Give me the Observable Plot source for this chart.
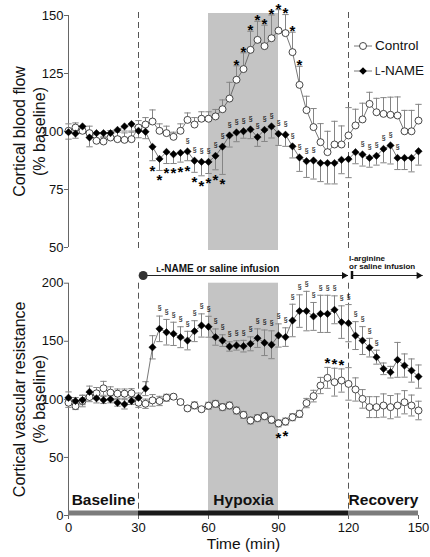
<!DOCTYPE html>
<html><head><meta charset="utf-8">
<script src="https://cdn.jsdelivr.net/npm/d3@7"></script>
<script src="https://cdn.jsdelivr.net/npm/@observablehq/plot@0.6"></script>
<style>
body{margin:0;background:#fff;}
#wrap{position:relative;width:430px;height:557px;font-family:"Liberation Sans",Arial,sans-serif;overflow:hidden;}
#wrap svg{position:absolute;left:0;overflow:visible;}
.leg{position:absolute;left:353px;font-size:13.5px;color:#111;display:flex;align-items:center;white-space:nowrap;}
.leg svg{position:static !important;margin-right:2px;}
</style></head><body><div id="wrap"></div>
<script>
// ---- data ----
const times = [0,3,6,9,12,15,18,21,24,27,30,33,36,39,42,45,48,51,54,57,60,63,66,69,72,75,78,81,84,87,90,93,96,99,102,105,108,111,114,117,120,123,126,129,132,135,138,141,144,147,150];

// Cortical blood flow (% baseline)
const cbfControl = [100.3,101.7,100.3,99.3,96,95.7,97.4,96.7,96.4,96.7,101.7,103,104.3,100.3,99.3,97.7,100.3,105,103,105.5,105.5,106.5,109.6,114.2,122.3,126.9,135.2,139.5,136.8,140.2,143.5,142.4,134.2,120.1,109.2,101.9,95.4,91.1,94.4,94.4,98.3,102.6,105.2,111.9,108.3,107.6,107.2,106.9,100.1,100.1,104.7];
const cbfControlSE = [3,2,2,3,3,2,3,3,3,3,3,3,5,3,3,2,3,3,3,3,3,3,4,7,6,7,8,8,9,10,9,8,8.6,8,6,8,8,9,10,8,12,7,7,5,6,7,7.6,8,9,9,7];
const cbfLname = [99.7,99.1,102.2,97.4,99.3,99.3,99.3,100.7,102.2,103.2,100.3,99.9,93.4,88.2,91.2,90.2,90.8,91.4,87.4,86.9,86.9,89.5,93.5,98.3,99.6,100.1,100.9,97.6,100.7,102.2,99,98.6,93.6,88.8,87.2,87.5,86.4,86.4,86.4,87.8,88.1,91.1,90.1,88.6,89.5,92.5,94,88.6,88.6,88.6,91.5];
const cbfLnameSE = [3,2,3,4,3,2,2,3,2,3,3,3,6,5,5,4,4,4,5,6,5,6,12,5,4,3,4,4,5,5,5,5,5,6,7,8,8,9,9,6,8,5,5,4,4,6,8,5,5,6,6];

// Cortical vascular resistance (% baseline)
const cvrControl = [97.1,94.2,98.6,102,105.2,109.5,105.8,104.9,104.9,105.2,97.1,96.2,99.1,98.6,101.4,102.3,97.7,92.2,94.8,91.5,94.5,96.1,93.3,94.7,90.4,86.6,81.8,83.8,85.5,82.4,79.3,80.9,84.6,87.5,96.8,102.8,111.9,118.5,114.8,116.2,113.3,108.5,100.4,93.3,93.3,94.7,93.3,94.7,97.5,94.7,90.4];
const cvrControlSE = [4,3,5,4,5,6,5,4,4,4,4,4,5,4,3,2,2,2,3,2,3,3,3,3,3,3,3,3,3,3,3,3,3,3,4,5,7,9,12,10,14,10,8,9,9,10,10,10,10,9,8];
const cvrLname = [101.4,98.6,99.4,106.4,100.9,99.4,100,97.1,95.7,98.6,101.4,109.2,144.8,160.7,157.8,156.4,153.5,150.6,158.7,163.6,162.5,153.6,150.6,145.5,146.4,145.8,147.8,152.7,148.7,147,155,153.6,167.9,176,176,171.4,173.6,173.6,177.1,166.5,165.6,154.9,150.6,144.5,136.3,126.3,123.4,134,129.1,124.8,119.6];
const cvrLnameSE = [5,3,4,5,4,3,3,3,4,3,4,6,10,11,11,10,9,8,9,10,9,7,5,4,4,5,6,8,11,12,10,8,14,14,17,12,16,16,12,14,16,12,12,8,6,5,5,15,10,10,10];

// significance flags (time points)
const cbfCtrlStar = [72,75,78,81,84,87,90,93,96,99];
const cbfLnameStar = [36,39,42,45,48,51,54,57,60,63,66];
const cbfLnameSect = [51,54,57,60,63,66,69,72,75,78,81,84,87,90,93,96,99,102,105,126,129,132,135,138,141];
const cvrLnameSect = [39,42,45,48,51,54,57,60,63,66,69,72,75,78,81,84,87,90,93,96,99,102,105,108,111,114,117,120,123,126,129,132];
const cvrCtrlStarBelow = [90,93];
const cvrCtrlStarAbove = [111,114,117];

// protocol
const phaseNames = ["Baseline","Hypoxia","Recovery"];
const phaseStart = [0,60,120];
const phaseEnd = [30,90,150];
const boundaries = [30,120];
const segStart = [0,30,120];
const segEnd = [30,120,150];
const infusionLabels = ["L-NAME or saline infusion", "l-arginine\nor saline infusion"];
const infusionStart = [32,121.5];
const infusionEnd = [120,152];

const cbfTicks = [50,75,100,125,150];
const cvrTicks = [0,50,100,150,200];
const timeTicks = [0,30,60,90,120,150];

// ---- build ----
const rows = times.map((t,i)=>({t, cbfC:cbfControl[i], cbfCe:cbfControlSE[i], cbfL:cbfLname[i], cbfLe:cbfLnameSE[i],
  cvrC:cvrControl[i], cvrCe:cvrControlSE[i], cvrL:cvrLname[i], cvrLe:cvrLnameSE[i]}));
const at = ts => rows.filter(r => ts.includes(r.t));
const phases = phaseNames.map((n,i)=>({name:n, start:phaseStart[i], end:phaseEnd[i]}));
const hyp = phases.filter(p=>p.name==="Hypoxia");
const segs = segStart.map((s,i)=>({start:s,end:segEnd[i],i}));
const infs = infusionLabels.map((l,i)=>({label:l,start:infusionStart[i],end:infusionEnd[i],i}));

const hline = {draw(ctx,size){const w=Math.sqrt(size);ctx.moveTo(-w,0);ctx.lineTo(w,0);}};
const FONT = '"Liberation Sans", Arial, sans-serif';
const ERR = "#858585", LINE = "#555", DASH = "#555", SHADE = "#c4c4c4";
const star = ()=>"*", sect = ()=>"§";

function errMarks(key, seKey, dir){
  const y2 = dir>0 ? d=>d[key]+d[seKey] : dir<0 ? d=>d[key]-d[seKey] : d=>d[key]+d[seKey];
  const y1 = dir===0 ? d=>d[key]-d[seKey] : key;
  const ms = [
    Plot.ruleX(rows,{x:"t", y1, y2, stroke:ERR, strokeWidth:1}),
    Plot.dot(rows,{x:"t", y:y2, symbol:hline, r:1.8, stroke:ERR, strokeWidth:1})
  ];
  if (dir===0) ms.push(Plot.dot(rows,{x:"t", y:d=>d[key]-d[seKey], symbol:hline, r:1.8, stroke:ERR, strokeWidth:1}));
  return ms;
}
function series(ck, lk){
  return [
    Plot.line(rows,{x:"t", y:ck, stroke:LINE, strokeWidth:0.8}),
    Plot.line(rows,{x:"t", y:lk, stroke:LINE, strokeWidth:0.8}),
    Plot.dot(rows,{x:"t", y:ck, r:3.5, fill:"white", stroke:"#333", strokeWidth:0.9}),
    Plot.dot(rows,{x:"t", y:lk, symbol:"diamond2", r:3.3, fill:"#000", stroke:"#000", strokeWidth:0.5})
  ];
}
const ylab = (txt, dx) => Plot.text([txt],{frameAnchor:"left", textAnchor:"middle", lineAnchor:"middle", rotate:-90, dx, fontSize:16, fill:"#111"});

const topPlot = Plot.plot({
  width:430, height:260, marginLeft:68, marginRight:12, marginTop:15, marginBottom:13,
  x:{domain:[0,150], axis:null},
  y:{domain:[50,150], axis:null},
  style:{fontFamily:FONT, fontSize:"13px", color:"#111", background:"transparent", overflow:"visible"},
  marks:[
    Plot.rect(hyp,{x1:"start", x2:"end", fill:SHADE, insetTop:-2, insetBottom:-3}),
    Plot.ruleX(boundaries,{stroke:DASH, strokeDasharray:"6,4", strokeWidth:1, insetTop:-3, insetBottom:-3}),
    Plot.ruleX([0],{stroke:"#666", strokeWidth:1}),
    Plot.axisY({ticks:cbfTicks, tickSize:4, tickPadding:1, label:null, fontSize:13, stroke:"#666"}),
    ...errMarks("cbfL","cbfLe",-1),
    ...errMarks("cbfC","cbfCe",1),
    ...series("cbfC","cbfL"),
    Plot.text(at(cbfCtrlStar),{x:"t", y:d=>d.cbfC+d.cbfCe, text:star, dy:-1, fontSize:15, fontWeight:"bold", fill:"#000"}),
    Plot.text(at(cbfLnameStar),{x:"t", y:d=>d.cbfL-d.cbfLe, text:star, dy:10, fontSize:15, fontWeight:"bold", fill:"#000"}),
    Plot.text(at(cbfLnameSect),{x:"t", y:"cbfL", text:sect, dy:-11, fontSize:7.5, fill:"#000"}),
    ylab("Cortical blood flow", -49),
    ylab("(% baseline)", -29)
  ]
});

const botPlot = Plot.plot({
  width:430, height:317, marginLeft:68, marginRight:12, marginTop:42.7, marginBottom:42,
  x:{domain:[0,150], axis:null},
  y:{domain:[0,200], axis:null},
  style:{fontFamily:FONT, fontSize:"13px", color:"#111", background:"transparent", overflow:"visible"},
  marks:[
    Plot.rect(hyp,{x1:"start", x2:"end", fill:SHADE}),
    Plot.ruleX(boundaries,{stroke:DASH, strokeDasharray:"6,4", strokeWidth:1}),
    Plot.ruleX([0],{stroke:"#666", strokeWidth:1}),
    Plot.axisY({ticks:cvrTicks, tickSize:4, tickPadding:1, label:null, fontSize:13, stroke:"#666"}),
    Plot.axisX({ticks:timeTicks, tickSize:4, tickPadding:3, label:null, fontSize:13, stroke:"#666"}),
    Plot.ruleY(segs,{y:0, x1:"start", x2:"end", stroke:d=>d.i===1?"#1a1a1a":"#7c7c7c", strokeWidth:5, dy:-2.5}),
    Plot.text(phases,{x:d=>(d.start+d.end)/2, y:0, text:"name", dy:-15, fontSize:15.5, fontWeight:"bold", fill:"#111"}),
    ...errMarks("cvrL","cvrLe",0),
    ...errMarks("cvrC","cvrCe",0),
    ...series("cvrC","cvrL"),
    Plot.text(at(cvrLnameSect),{x:"t", y:d=>d.cvrL+d.cvrLe, text:sect, dy:-8, fontSize:7.5, fill:"#000"}),
    Plot.text(at(cvrCtrlStarBelow),{x:"t", y:d=>d.cvrC-d.cvrCe, text:star, dy:11, fontSize:15, fontWeight:"bold", fill:"#000"}),
    Plot.text(at(cvrCtrlStarAbove),{x:"t", y:d=>d.cvrC+d.cvrCe, text:star, dy:-4, fontSize:15, fontWeight:"bold", fill:"#000"}),
    // infusion annotations
    Plot.ruleY(infs,{y:200, x1:"start", x2:"end", dy:-7.7, stroke:"#222", strokeWidth:1}),
    Plot.dot(infs,{x:"end", y:200, dy:-7.7, dx:-4.5, symbol:"triangle", rotate:90, r:2.6, fill:"#111", stroke:"none"}),
    Plot.dot(infs.filter(d=>d.i===0),{x:"start", y:200, dy:-7.7, r:4.5, fill:"#333"}),
    Plot.ruleX(infs.filter(d=>d.i===1),{x:"start", y1:200, y2:200, dy:-7.7, insetTop:-4, insetBottom:-4, stroke:"#111", strokeWidth:2.5}),
    Plot.text(infs.filter(d=>d.i===0),{x:"start", y:200, text:"label", dx:13, dy:-14.7, textAnchor:"start", fontSize:10, fontWeight:"bold", fill:"#111"}),
    Plot.text(infs.filter(d=>d.i===1),{x:"start", y:200, text:"label", dx:-3, dy:-21, textAnchor:"start", fontSize:8, lineHeight:1.1, fontWeight:"bold", fill:"#111"}),
    ylab("Cortical vascular resistance", -49),
    ylab("(% baseline)", -29),
    Plot.text(["Time (min)"],{frameAnchor:"bottom", dy:33, fontSize:15.5, fill:"#111"})
  ]
});

const wrap = document.getElementById("wrap");
botPlot.style.top = "240px";
topPlot.style.top = "0px";
wrap.appendChild(botPlot);
wrap.appendChild(topPlot);

// small-capital "L" in L-NAME
d3.select(botPlot).selectAll("text").filter(function(){return this.textContent.startsWith("L-NAME");}).each(function(){
  const rest = this.textContent.slice(1);
  this.textContent = "";
  d3.select(this).append("tspan").attr("font-size","0.78em").text("L");
  d3.select(this).append("tspan").text(rest);
});

// legend
const legItems = [
  {label:'Control', sym:'<circle cx="10" cy="6" r="3.5" fill="white" stroke="#333" stroke-width="0.9"/>'},
  {label:'<span style="font-size:0.75em">L</span>-NAME', sym:'<path d="M10 2.2 L13.8 6 L10 9.8 L6.2 6 Z" fill="#000"/>'}
];
legItems.forEach((it,i)=>{
  const d = document.createElement("div");
  d.className = "leg";
  d.style.top = (38 + i*25) + "px";
  d.innerHTML = `<svg width="20" height="12"><line x1="1" y1="6" x2="19" y2="6" stroke="#555" stroke-width="0.8"/>${it.sym}</svg><span>${it.label}</span>`;
  wrap.appendChild(d);
});
</script></body></html>
